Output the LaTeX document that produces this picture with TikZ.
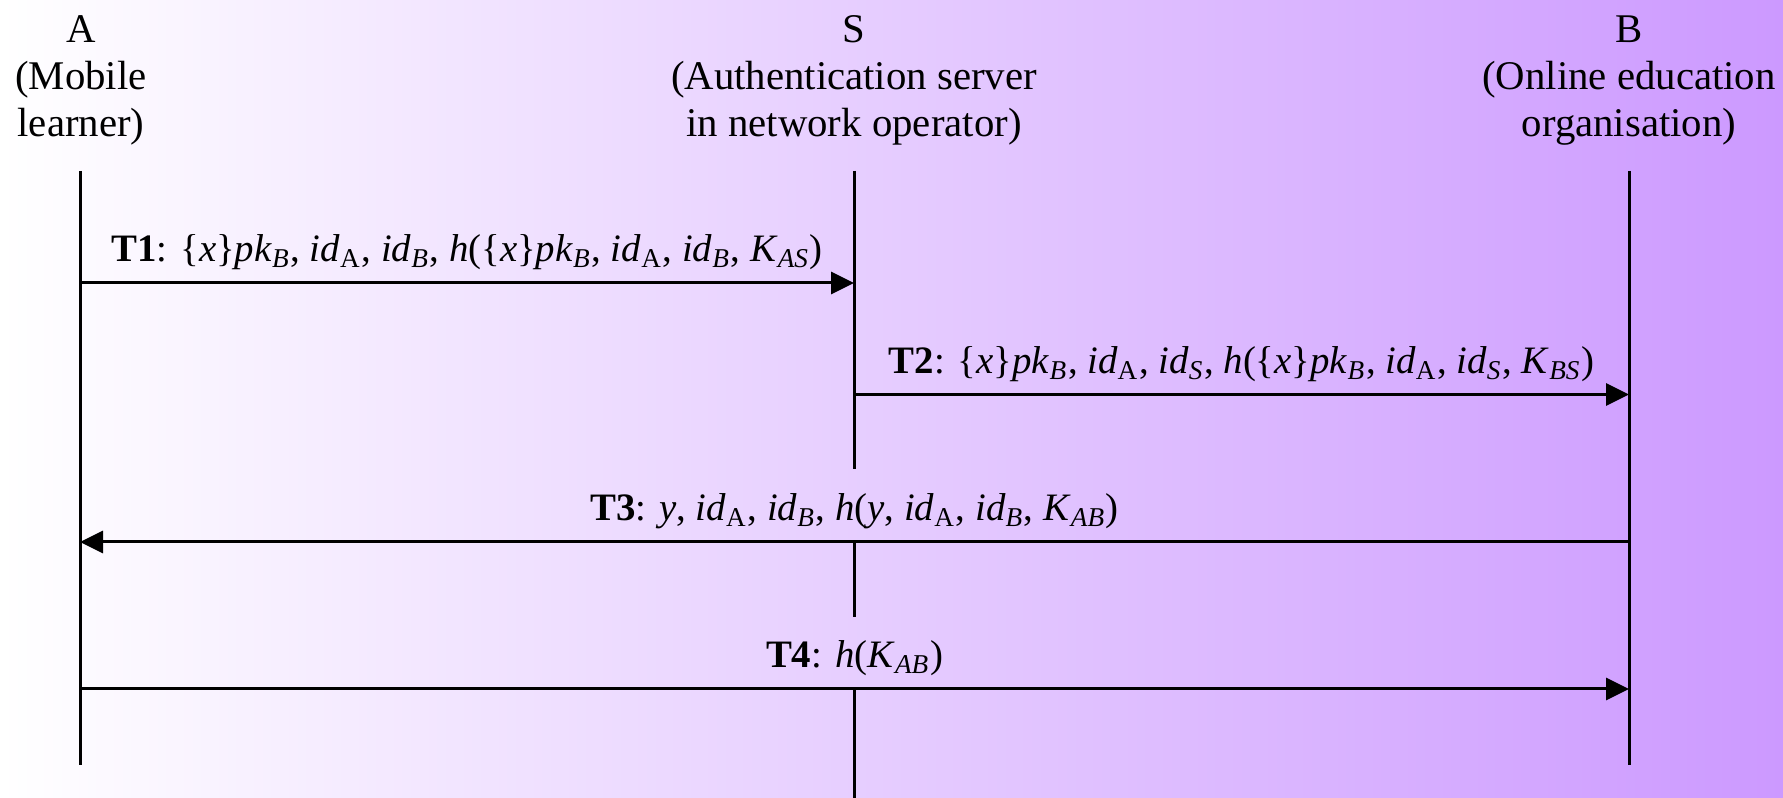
\documentclass[tikz,border=0pt]{standalone}
\usepackage{fontspec}
\setmainfont{Liberation Serif}
\usetikzlibrary{arrows.meta}

\definecolor{bgleft}{RGB}{255,255,255}
\definecolor{bgright}{RGB}{204,153,255}

% italic and upright subscripts
\newcommand{\sbi}[1]{\textsubscript{\textit{#1}}}
\newcommand{\sbu}[1]{\textsubscript{#1}}

\begin{document}
\begin{tikzpicture}[every node/.style={font=\fontsize{11.6}{13.4}\selectfont, inner sep=0pt},
    party/.style={align=center, anchor=north},
    msg/.style={midway, anchor=base, yshift=2.1mm, font=\fontsize{11.05}{13}\selectfont},
    lifeline/.style={line width=0.3mm},
    call/.style={line width=0.3mm, -{Triangle[length=2.3mm,width=2.2mm]}}]
  \shade[left color=bgleft, right color=bgright] (0,0) rectangle (17.83,7.98);
  \useasboundingbox (0,0) rectangle (17.83,7.98);

  \node[party] (A) at (0.81,7.83) {A\\(Mobile\\learner)};
  \node[party] (S) at (8.54,7.83) {S\\(Authentication server\\in network operator)};
  \node[party] (B) at (16.29,7.83) {B\\(Online education\\organisation)};

  \coordinate (atop) at (0.80,6.27);  \coordinate (abot) at (0.80,0.33);
  \coordinate (btop) at (16.29,6.27); \coordinate (bbot) at (16.29,0.33);
  \coordinate (stop) at (8.54,6.27);  \coordinate (sbot) at (8.54,0);

  \coordinate (a1) at (0.80,5.15);  \coordinate (s1) at (8.54,5.15);
  \coordinate (s2) at (8.54,4.035); \coordinate (b2) at (16.29,4.035);
  \coordinate (b3) at (16.29,2.56); \coordinate (a3) at (0.80,2.56);
  \coordinate (a4) at (0.80,1.09);  \coordinate (b4) at (16.29,1.09);
  \coordinate (s3) at (8.54,3.29);  \coordinate (s4) at (8.54,2.56);
  \coordinate (s5) at (8.54,1.81);  \coordinate (s6) at (8.54,1.09);

  \draw[lifeline] (atop) -- (abot);
  \draw[lifeline] (btop) -- (bbot);
  \draw[lifeline] (stop) -- (s3);
  \draw[lifeline] (s4) -- (s5);
  \draw[lifeline] (s6) -- (sbot);

  \draw[call] (a1) -- node[msg] (t1) {\textbf{T1}: \{\textit{x}\}\textit{pk}\sbi{B}, \textit{id}\sbu{A}, \textit{id}\sbi{B}, \textit{h}(\{\textit{x}\}\textit{pk}\sbi{B}, \textit{id}\sbu{A}, \textit{id}\sbi{B}, \textit{K}\sbi{AS})} (s1);
  \draw[call] (s2) -- node[msg] (t2) {\textbf{T2}: \{\textit{x}\}\textit{pk}\sbi{B}, \textit{id}\sbu{A}, \textit{id}\sbi{S}, \textit{h}(\{\textit{x}\}\textit{pk}\sbi{B}, \textit{id}\sbu{A}, \textit{id}\sbi{S}, \textit{K}\sbi{BS})} (b2);
  \draw[call] (b3) -- node[msg] (t3) {\textbf{T3}: \textit{y}, \textit{id}\sbu{A}, \textit{id}\sbi{B}, \textit{h}(\textit{y}, \textit{id}\sbu{A}, \textit{id}\sbi{B}, \textit{K}\sbi{AB})} (a3);
  \draw[call] (a4) -- node[msg] (t4) {\textbf{T4}: \textit{h}(\textit{K}\sbi{AB})} (b4);
\end{tikzpicture}
\end{document}
